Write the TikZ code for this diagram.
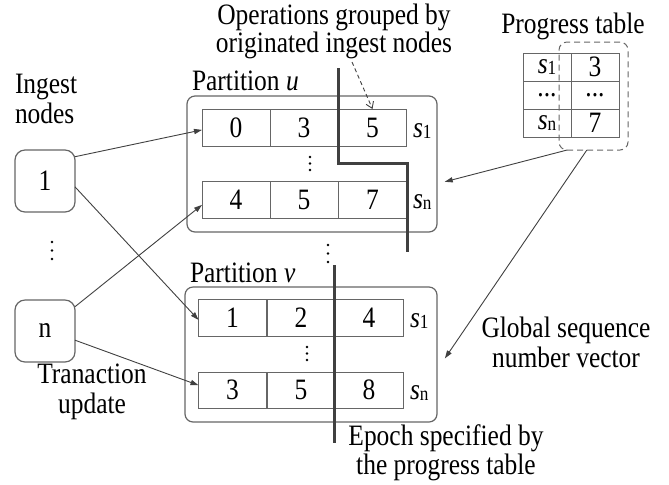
\documentclass[tikz,border=0pt]{standalone}
\usepackage{fontspec}
\setmainfont[FakeStretch=0.86]{Liberation Serif}
\usetikzlibrary{arrows.meta,calc}
\definecolor{boxgray}{gray}{0.40}
\definecolor{arrowgray}{gray}{0.25}
\definecolor{thickgray}{gray}{0.25}
\newcommand\ssb[1]{\textit{s}\raisebox{-0.6pt}{\fontsize{10}{10}\selectfont #1}}
\begin{document}
\begin{tikzpicture}[x=0.5pt,y=-0.5pt,
  font=\fontsize{14.8}{15}\selectfont,
  txt/.style={inner sep=0pt, outer sep=0pt},
  cell/.style={draw=boxgray, line width=0.5pt, minimum width=34pt, minimum height=18.5pt, inner sep=0pt, outer sep=0pt},
  part/.style={draw=boxgray, line width=0.6pt, rounded corners=4pt, inner sep=0pt, outer sep=0pt},
  ingest/.style={draw=boxgray, line width=0.6pt, rounded corners=5pt, minimum width=30pt, minimum height=31pt, inner sep=0pt, outer sep=0pt},
  tcell/.style={draw=boxgray, line width=0.5pt, minimum width=24pt, minimum height=14pt, inner sep=0pt, outer sep=0pt},
  selbox/.style={draw=boxgray, line width=0.5pt, dash pattern=on 3pt off 2pt, rounded corners=4pt, minimum width=34.5pt, minimum height=54pt, inner sep=0pt, outer sep=0pt},
  arr/.style={draw=arrowgray, line width=0.45pt, -{Triangle[length=4pt,width=2.6pt]}},
  darr/.style={draw=arrowgray, line width=0.45pt, dash pattern=on 2pt off 1.5pt, -{Straight Barb[length=3pt,width=4pt]}},
  thickline/.style={draw=thickgray, line width=1.5pt},
  vdot/.style={fill=black, radius=1.3}
]
\useasboundingbox (0,0) rectangle (669,484);

% ---------- top caption ----------
\node[txt, anchor=base] (ops1) at (334,24) {Operations grouped by};
\node[txt, anchor=base] (ops2) at (334,52) {originated ingest nodes};
\coordinate (opsend) at (352,62);

% ---------- partitions ----------
\node[part, minimum width=125pt, minimum height=68pt] (pu) at (312,164) {};
\node[part, minimum width=126pt, minimum height=67.5pt] (pv) at (311,354.5) {};
\node[txt, anchor=base west] (lu) at (192,90) {Partition \textit{u}};
\node[txt, anchor=base west] (lv) at (190,282) {Partition \textit{v}};

% partition u rows
\node[cell] (u11) at (236,127.5) {0};
\node[cell] (u12) at (304,127.5) {3};
\node[cell] (u13) at (372.5,127.5) {5};
\node[cell] (u21) at (236,199.5) {4};
\node[cell] (u22) at (304,199.5) {5};
\node[cell] (u23) at (372.5,199.5) {7};
\node[txt, anchor=base west] (us1) at (413,137) {\ssb{1}};
\node[txt, anchor=base west] (usn) at (413,208) {\ssb{n}};

% partition v rows
\node[cell] (v11) at (232.5,317.5) {1};
\node[cell] (v12) at (301,317.5) {2};
\node[cell] (v13) at (369,317.5) {4};
\node[cell, minimum height=18pt] (v21) at (232.5,390) {3};
\node[cell, minimum height=18pt] (v22) at (301,390) {5};
\node[cell, minimum height=18pt] (v23) at (369,390) {8};
\node[txt, anchor=base west] (vs1) at (410,327) {\ssb{1}};
\node[txt, anchor=base west] (vsn) at (410,399) {\ssb{n}};

% vertical dots
\foreach \y in {157,163.5,170} \fill[vdot] (310,\y) circle;
\foreach \y in {347,353.5,360} \fill[vdot] (307,\y) circle;
\foreach \y in {245,253.5,262} \fill[vdot] (328,\y) circle;
\foreach \y in {242,250.5,259} \fill[vdot] (52,\y) circle;

% thick epoch lines
\draw[thickline] (338,68) -- (338,163) -- (407,163) -- (407,252);
\draw[thickline] (334,265) -- (334,443);

% ---------- ingest nodes ----------
\node[txt, anchor=base west] (ing1) at (15,93) {Ingest};
\node[txt, anchor=base west] (ing2) at (15,123) {nodes};
\node[ingest] (n1) at (45,181) {1};
\node[ingest] (nn) at (45,331) {n};
\node[txt, anchor=base] (tr1) at (92,383) {Tranaction};
\node[txt, anchor=base] (tr2) at (92,413) {update};

% ---------- progress table ----------
\node[txt, anchor=base] (pt) at (573,33) {Progress table};
\node[tcell] (t11) at (547,67) {\ssb{1}};
\node[tcell] (t12) at (595,67) {3};
\node[tcell] (t21) at (547,95) {...};
\node[tcell] (t22) at (595,95) {...};
\node[tcell] (t31) at (547,123) {\ssb{n}};
\node[tcell] (t32) at (595,123) {7};
\node[selbox] (sel) at (593.5,96) {};

% ---------- right captions ----------
\node[txt, anchor=base] (gs1) at (566,337) {Global sequence};
\node[txt, anchor=base] (gs2) at (566,367) {number vector};
\node[txt, anchor=base] (ep1) at (446,445) {Epoch specified by};
\node[txt, anchor=base] (ep2) at (446,474) {the progress table};

% ---------- connectors ----------
\draw[arr] (n1.39) -- (u11.184);
\draw[arr] (n1.-11) -- (v11.184);
\draw[arr] (nn.39) -- (u21.189);
\draw[arr] (nn.-17) -- (v21.172);
\draw[arr, shorten >=4pt] (sel.244) -- (pu.-9.5);
\draw[arr, shorten >=7pt] (sel.263) -- (pv.-7.9);
\draw[darr] (opsend) -- (u13.north);
\end{tikzpicture}
\end{document}
